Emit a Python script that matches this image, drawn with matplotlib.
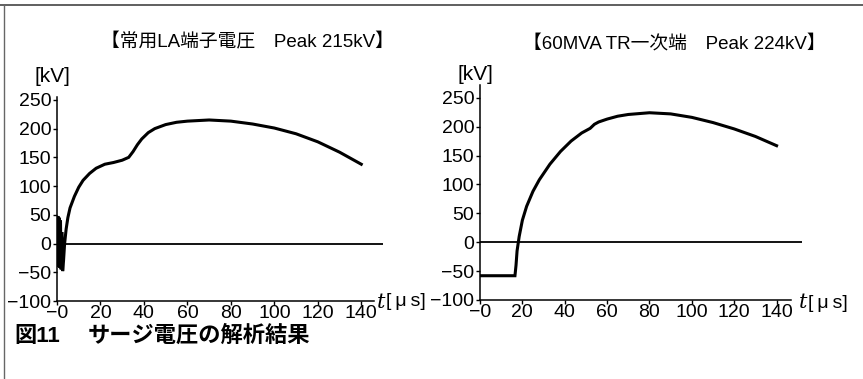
import matplotlib.pyplot as plt
from matplotlib.lines import Line2D

JP = ["Liberation Sans", "Noto Sans CJK JP"]
plt.rcParams["font.family"] = JP

# left panel: LA terminal voltage
t_la = [0.0, 0.4, 0.7, 1.0, 1.3, 1.6, 1.9, 2.2, 2.6, 3.0, 3.5, 4.2, 5.0, 6.0,
        8.0, 10.0, 12.0, 15.0, 18.0, 22.0, 26.0, 30.0, 33.0, 35.0, 37.0,
        39.0, 42.0, 45.0, 50.0, 55.0, 60.0, 70.0, 80.0, 90.0, 100.0, 110.0,
        120.0, 130.0, 140.0]
v_la = [0, 48, -40, 45, -42, 40, -45, 20, -48, -30, 0, 25, 45, 62,
        82, 98, 110, 122, 131, 138, 141, 145, 150, 160, 172,
        182, 193, 200, 207, 211, 213, 215, 213, 208, 201, 191,
        177, 159, 138]

# right panel: 60MVA TR primary
t_tr = [0.0, 16.5, 17.0, 17.5, 18.5, 20.0, 22.0, 25.0, 28.0, 33.0, 38.0,
        43.0, 48.0, 52.0, 54.0, 56.0, 60.0, 65.0, 70.0, 80.0, 90.0, 100.0,
        110.0, 120.0, 130.0, 140.0]
v_tr = [-58, -58, -40, -15, 10, 38, 62, 88, 108, 135, 157,
        175, 189, 197, 204, 208, 213, 218, 221, 224, 222, 216,
        207, 196, 183, 167]

titles = ["【常用LA端子電圧　Peak 215kV】", "【60MVA TR一次端　Peak 224kV】"]
yticks = [-100, -50, 0, 50, 100, 150, 200, 250]
ytick_labels = ["\u2212100", "\u221250", "0", "50", "100", "150", "200", "250"]
xticks = [0, 20, 40, 60, 80, 100, 120, 140]
xtick_labels = ["\u22120", "20", "40", "60", "80", "100", "120", "140"]
caption_num = "図11"
caption_text = "サージ電圧の解析結果"

W, H = 863, 379
fig = plt.figure(figsize=(W / 100, H / 100), dpi=100)


def fx(px):
    return px / W


def fy(py):
    return 1 - py / H


def make_axes(left, right, bottom, top, xmax, ytop, axis_end):
    ax = fig.add_axes([fx(left), fy(bottom), fx(right - left), (bottom - top) / H])
    ax.set_xlim(0, xmax)
    ax.set_ylim(-100, ytop)
    for side in ["top", "right"]:
        ax.spines[side].set_visible(False)
    ax.spines["left"].set_linewidth(1.1)
    ax.spines["bottom"].set_linewidth(1.1)
    ax.spines["bottom"].set_bounds(0, axis_end)
    ax.set_yticks(yticks, ytick_labels)
    ax.set_xticks(xticks, xtick_labels)
    ax.tick_params(direction="out", length=3, width=1, labelsize=14, pad=1)
    ax.tick_params(axis="x", pad=0)
    ax.axhline(0, color="black", lw=1.3, zorder=1)
    return ax


ax1 = make_axes(57, 383, 301, 97, 150, 255, 146)
ax1.plot(t_la, v_la, color="black", lw=2.2, solid_joinstyle="miter")

ax2 = make_axes(480, 802, 300, 85, 152, 272, 147)
ax2.plot(t_tr, v_tr, color="black", lw=2.2, solid_joinstyle="miter")

# titles and axis labels
fig.text(fx(247), fy(42), titles[0], ha="center", va="center", fontsize=13.5)
fig.text(fx(674), fy(44), titles[1], ha="center", va="center", fontsize=13.5)
fig.text(fx(52), fy(77), "[kV]", ha="center", va="center", fontsize=15)
fig.text(fx(475), fy(75), "[kV]", ha="center", va="center", fontsize=15)
for x0, y0 in [(377, 302), (799, 303)]:
    fig.text(fx(x0), fy(y0), "t", ha="left", va="center", fontsize=15,
             style="italic", family="DejaVu Serif")
    fig.text(fx(x0 + 9), fy(y0), "[\u2009\u03bc\u2009s]", ha="left", va="center",
             fontsize=14)

# caption
fig.text(fx(14), fy(336), caption_num, ha="left", va="center", fontsize=16,
         fontweight="bold")
fig.text(fx(88), fy(336), caption_text, ha="left", va="center", fontsize=16,
         fontweight="bold")

# frame of the figure box
fig.add_artist(Line2D([0, 1], [fy(5), fy(5)], color="#444444", lw=1.2))
fig.add_artist(Line2D([fx(4), fx(4)], [fy(5), 0], color="#666666", lw=1.0))

fig.savefig("out.png", dpi=100)
